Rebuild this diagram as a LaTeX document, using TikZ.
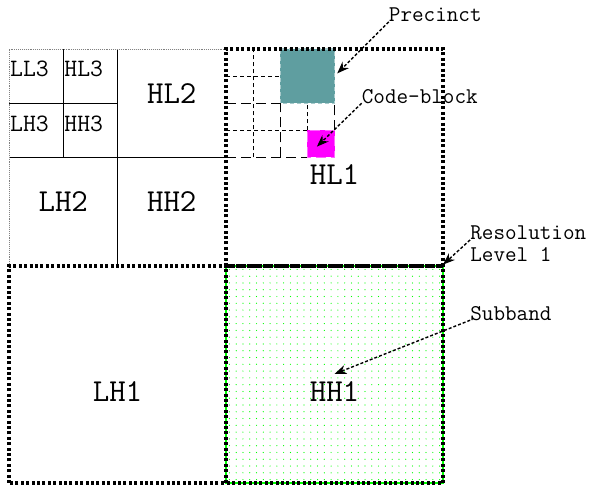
\documentclass[tikz,border=0pt]{standalone}
\usepackage{fontspec}
\usepackage{xcolor}
\usetikzlibrary{arrows.meta, positioning, calc}
\definecolor{precteal}{RGB}{95,158,160}
\definecolor{cblkpink}{RGB}{255,0,255}
\definecolor{bandgreen}{RGB}{0,255,0}

\begin{document}
\begin{tikzpicture}[x=27.125pt, y=27.125pt, >={Stealth[length=12pt, width=9pt]},
			font=\ttfamily,
			reslevel/.style={line width=3.2pt, dash pattern=on 3pt off 2.4pt},
			subline/.style={line width=0.9pt},
			cblkline/.style={line width=1.2pt, dash pattern=on 4pt off 3pt},
			prcline/.style={line width=1.2pt, dash pattern=on 10pt off 5pt},
			biglbl/.style={anchor=base, inner sep=0pt, font=\ttfamily\fontsize{32}{34}\selectfont},
			smalllbl/.style={anchor=base west, inner sep=1pt, font=\ttfamily\fontsize{25}{27}\selectfont},
			note/.style={anchor=base west, inner sep=0pt, align=left, font=\ttfamily\fontsize{22.5}{22}\selectfont},
			pointer/.style={->, line width=1.4pt, dash pattern=on 3pt off 2pt}]
			\useasboundingbox (-0.332,-0.147) rectangle (21.493,17.806);
			\fill[white] (-0.332,-0.147) rectangle (21.493,17.806);
			% subband HH1 (green dots, about 6.8 px apart)
			\foreach \i in {0,...,31}
			\foreach \j in {0,...,31}
			\fill[bandgreen] ({8.125+0.25*\i},{0.125+0.25*\j}) circle (0.6pt);
			\draw[bandgreen, line width=2.4pt] (8,0) rectangle (16,8);
			% one precinct and one code-block inside HL1
			\fill[precteal] (10,14) rectangle (12,16);
			\draw[precteal!55!white, cblkline] (10,14) rectangle (12,16);
			\fill[cblkpink] (11,12) rectangle (12,13);
			\draw[cblkpink!60!white, prcline] (11,12) rectangle (12,13);
			% levels 2 and 3
			\draw[subline] (4,8) -- (4,16) (0,12) -- (8,12)
			(2,12) -- (2,16) (0,14) -- (4,14);
			\draw[gray, line width=0.9pt, densely dotted] (0,8) -- (0,16) -- (8,16);
			% code-block partition (dotted) and precinct partition (dashed)
			\draw[cblkline] (9,12) -- (9,16) (8,15) -- (10,15)
			(8,13) -- (11,13) (11,13) -- (11,14);
			\draw[prcline] (8,14) -- (10,14) (10,12) -- (10,14)
			(8,12) -- (11,12) (12,13) -- (12,14);
			% resolution level 1 subbands
			\draw[reslevel] (8,8) rectangle (16,16);
			\draw[reslevel] (0,0) rectangle (8,8);
			\draw[reslevel] (8,0) rectangle (16,8);
			% subband names
			\node[smalllbl] (ll3) at (0,14.97) {LL3};
			\node[smalllbl] (hl3) at (2,14.97) {HL3};
			\node[smalllbl] (lh3) at (0,12.95) {LH3};
			\node[smalllbl] (hh3) at (2,12.95) {HH3};
			\node[biglbl] (hl2) at (6,14) {HL2};
			\node[biglbl] (lh2) at (2,10) {LH2};
			\node[biglbl] (hh2) at (6,10) {HH2};
			\node[biglbl] (hl1) at (12,11) {HL1};
			\node[biglbl] (lh1) at (4,3) {LH1};
			\node[biglbl] (hh1) at (12,3) {HH1};
			% notes with their pointers (base of a two-line note = last line)
			\node[note] (prec) at (14,17) {Precinct};
			\node[note] (cblk) at (13,14) {Code-block};
			\node[note] (reslvl) at (17,8.15) {Resolution\\Level 1};
			\node[note] (sband) at (17,6) {Subband};
			\coordinate (prec tip) at (12.1,15.1);
			\coordinate (cblk tip) at (11.35,12.4);
			\coordinate (reslvl tip) at (16,8.05);
			\coordinate (sband tip) at (12,4.02);
			\draw[pointer] (prec.base west) -- (prec tip);
			\draw[pointer] (cblk.base west) -- (cblk tip);
			\draw[pointer] ($(reslvl.base west)+(0,22pt)$) -- (reslvl tip);
			\draw[pointer] (sband.base west) -- (sband tip);
		\end{tikzpicture}
\end{document}
